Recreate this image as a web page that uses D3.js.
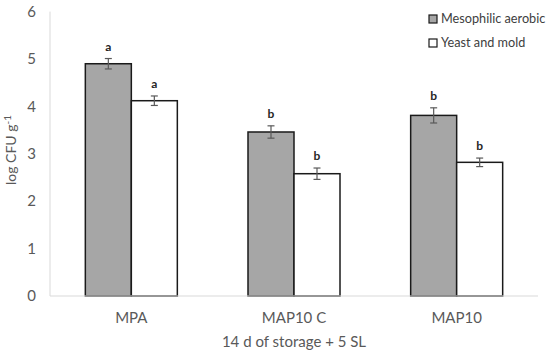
<!DOCTYPE html>
<html>
<head>
<meta charset="utf-8">
<script src="https://cdn.jsdelivr.net/npm/d3@7"></script>
<style>
  body { margin: 0; background: #fff; }
  text { font-family: Lato, "Open Sans", sans-serif; }
</style>
</head>
<body>
<svg width="550" height="353"></svg>
<script>
var categories = ["MPA", "MAP10 C", "MAP10"];
var seriesNames = ["Mesophilic aerobic", "Yeast and mold"];
var mesophilic = [4.9, 3.46, 3.81];
var mesophilicErr = [0.11, 0.13, 0.16];
var yeast = [4.12, 2.58, 2.82];
var yeastErr = [0.1, 0.12, 0.09];
var mesophilicLetters = ["a", "b", "b"];
var yeastLetters = ["a", "b", "b"];
var yTicks = [0, 1, 2, 3, 4, 5, 6];

var svg = d3.select("svg"),
    width = +svg.attr("width"),
    height = +svg.attr("height");

var x = d3.scaleBand().domain(categories).range([50, 538]).paddingInner(0).paddingOuter(0);
var xs = d3.scaleBand().domain(seriesNames).range([0, 92]);
var y = d3.scaleLinear().domain([0, 6]).range([296, 11.6]);

var fills = ["#a6a6a6", "#ffffff"];

var data = [];
categories.forEach(function(c, i) {
  data.push({cat: c, s: seriesNames[0], v: mesophilic[i], e: mesophilicErr[i], l: mesophilicLetters[i]});
  data.push({cat: c, s: seriesNames[1], v: yeast[i], e: yeastErr[i], l: yeastLetters[i]});
});

function bx(d) { return x(d.cat) + x.bandwidth() / 2 - 46 + xs(d.s); }

// axis lines
svg.append("line").attr("x1", 50).attr("x2", 50).attr("y1", y(6)).attr("y2", y(0))
  .attr("stroke", "#d9d9d9").attr("stroke-width", 1);

// y tick labels
svg.selectAll(".ytick").data(yTicks).enter().append("text")
  .attr("x", 36).attr("y", function(d) { return y(d); })
  .attr("dy", "0.35em").attr("text-anchor", "end")
  .attr("fill", "#595959").style("font-size", "15px")
  .text(function(d) { return d; });

// bars
svg.selectAll(".bar").data(data).enter().append("rect")
  .attr("x", bx)
  .attr("y", function(d) { return y(d.v); })
  .attr("width", xs.bandwidth())
  .attr("height", function(d) { return y(0) - y(d.v); })
  .attr("fill", function(d, i) { return fills[seriesNames.indexOf(d.s)]; })
  .attr("stroke", "#1a1a1a").attr("stroke-width", 1.5);

svg.append("line").attr("x1", 50).attr("x2", 538).attr("y1", y(0)).attr("y2", y(0))
  .attr("stroke", "#d9d9d9").attr("stroke-width", 1.2);

// error bars
var eb = svg.selectAll(".err").data(data).enter().append("g")
  .attr("stroke", "#595959").attr("stroke-width", 1.2);
eb.append("line")
  .attr("x1", function(d) { return bx(d) + xs.bandwidth() / 2; })
  .attr("x2", function(d) { return bx(d) + xs.bandwidth() / 2; })
  .attr("y1", function(d) { return y(d.v + d.e); })
  .attr("y2", function(d) { return y(d.v - d.e); });
[1, -1].forEach(function(sg) {
  eb.append("line")
    .attr("x1", function(d) { return bx(d) + xs.bandwidth() / 2 - 3.5; })
    .attr("x2", function(d) { return bx(d) + xs.bandwidth() / 2 + 3.5; })
    .attr("y1", function(d) { return y(d.v + sg * d.e); })
    .attr("y2", function(d) { return y(d.v + sg * d.e); });
});

// letters
svg.selectAll(".letter").data(data).enter().append("text")
  .attr("x", function(d) { return bx(d) + xs.bandwidth() / 2; })
  .attr("y", function(d) { return y(d.v + d.e) - 8; })
  .attr("text-anchor", "middle")
  .style("font-size", "12px").style("font-weight", "bold").attr("fill", "#262626")
  .text(function(d) { return d.l; });

// x labels
svg.selectAll(".xlab").data(categories).enter().append("text")
  .attr("x", function(d) { return x(d) + x.bandwidth() / 2; })
  .attr("y", 318).attr("dy", "0.35em").attr("text-anchor", "middle")
  .attr("fill", "#595959").style("font-size", "15px")
  .text(function(d) { return d; });

svg.append("text").attr("x", 294).attr("y", 342).attr("dy", "0.35em")
  .attr("text-anchor", "middle").attr("fill", "#595959").style("font-size", "15px")
  .text("14 d of storage + 5 SL");

// y title
var yt = svg.append("text").attr("transform", "translate(16,150) rotate(-90)")
  .attr("text-anchor", "middle").attr("fill", "#595959").style("font-size", "14px");
yt.append("tspan").text("log CFU g");
yt.append("tspan").attr("dy", "-5").style("font-size", "10px").text("-1");

// legend
var lg = svg.selectAll(".leg").data(seriesNames).enter().append("g")
  .attr("transform", function(d, i) { return "translate(429," + (15 + i * 24) + ")"; });
lg.append("rect").attr("width", 8).attr("height", 8)
  .attr("fill", function(d, i) { return fills[i]; })
  .attr("stroke", "#1a1a1a").attr("stroke-width", 1.2);
lg.append("text").attr("x", 12).attr("y", 4).attr("dy", "0.35em")
  .attr("fill", "#404040").style("font-size", "12.7px")
  .text(function(d) { return d; });
</script>
</body>
</html>
